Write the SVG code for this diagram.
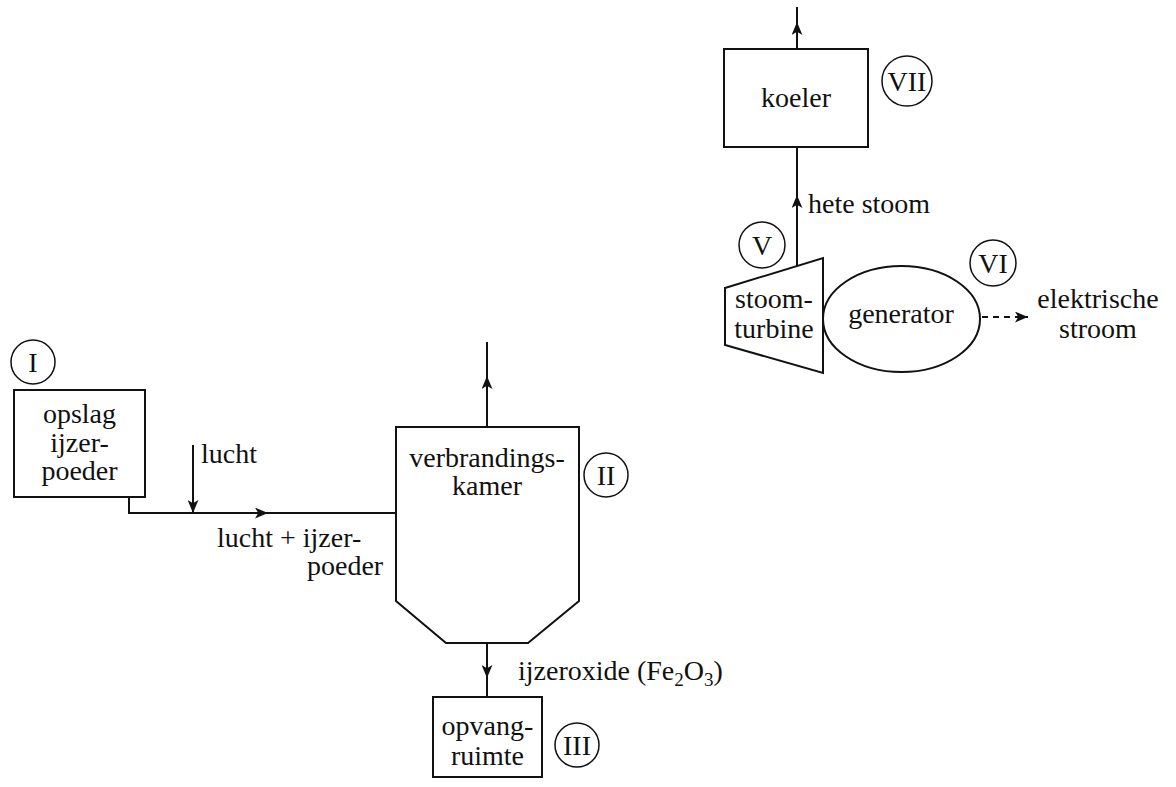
<svg xmlns="http://www.w3.org/2000/svg" width="1176" height="787" viewBox="0 0 1176 787">
<style>
text{font-family:"Liberation Serif","Times New Roman",serif;font-size:28px;fill:#111}
.c{text-anchor:middle}
.sh{fill:#fff;stroke:#111;stroke-width:2}
.num{fill:#fff;stroke:#111;stroke-width:1.5}
.ln{fill:none;stroke:#111;stroke-width:2}
.dash{fill:none;stroke:#111;stroke-width:2;stroke-dasharray:6 5}
</style>
<defs>
<marker id="ah" viewBox="0 0 12 10" refX="12" refY="5" markerWidth="13" markerHeight="11" markerUnits="userSpaceOnUse" orient="auto">
<path d="M0,0 L12,5 L0,10 L3,5 z" fill="#111"/>
</marker>
</defs>
<g id="connectors">
<path class="ln" d="M129,497 V513 H268" marker-end="url(#ah)"/>
<path class="ln" d="M262,513 H396"/>
<path class="ln" d="M193,445 V513" marker-end="url(#ah)"/>
<path class="ln" d="M487,427 V376" marker-end="url(#ah)"/>
<path class="ln" d="M487,382 V342"/>
<path class="ln" d="M487,643 V678" marker-end="url(#ah)"/>
<path class="ln" d="M487,672 V697"/>
<path class="ln" d="M797,49 V22" marker-end="url(#ah)"/>
<path class="ln" d="M797,28 V7"/>
<path class="ln" d="M797,267 V195" marker-end="url(#ah)"/>
<path class="ln" d="M797,200 V147"/>
<path class="dash" d="M982,317 H1028" marker-end="url(#ah)"/>
</g>
<g id="node-I">
<rect class="sh" x="14" y="390" width="131" height="107"/>
<text class="c" x="79.5" y="423">opslag</text>
<text class="c" x="79.5" y="452">ijzer-</text>
<text class="c" x="79.5" y="480">poeder</text>
<circle class="num" cx="33" cy="362" r="22"/>
<text class="c" x="33" y="372">I</text>
</g>
<g id="label-lucht">
<text x="201" y="463">lucht</text>
<text x="217" y="547">lucht + ijzer-</text>
<text x="307" y="575">poeder</text>
</g>
<g id="node-II">
<path class="sh" d="M396,427 H579 V601 L528,643 H446 L396,601 Z"/>
<text class="c" x="487" y="467">verbrandings-</text>
<text class="c" x="487" y="495">kamer</text>
<circle class="num" cx="606" cy="475" r="22"/>
<text class="c" x="606" y="485">II</text>
</g>
<g id="label-oxide">
<text x="518" y="680">ijzeroxide (Fe<tspan font-size="19" dy="6">2</tspan><tspan dy="-6">O</tspan><tspan font-size="19" dy="6">3</tspan><tspan dy="-6">)</tspan></text>
</g>
<g id="node-III">
<rect class="sh" x="433" y="697" width="109" height="80"/>
<text class="c" x="487.5" y="735">opvang-</text>
<text class="c" x="487.5" y="765">ruimte</text>
<circle class="num" cx="577" cy="745" r="22"/>
<text class="c" x="577" y="755">III</text>
</g>
<g id="node-VII">
<rect class="sh" x="724" y="49" width="144" height="98"/>
<text class="c" x="796" y="107">koeler</text>
<circle class="num" cx="907" cy="81" r="25"/>
<text class="c" x="907" y="91">VII</text>
</g>
<g id="label-stoom">
<text x="808" y="213">hete stoom</text>
</g>
<g id="node-V">
<path class="sh" d="M725,288 L823,258 V373 L725,345 Z"/>
<text class="c" x="774" y="308">stoom-</text>
<text class="c" x="774" y="338">turbine</text>
<circle class="num" cx="762" cy="245" r="23"/>
<text class="c" x="762" y="255">V</text>
</g>
<g id="node-VI">
<ellipse class="sh" cx="901.5" cy="319" rx="78.5" ry="53"/>
<text class="c" x="901" y="323">generator</text>
<circle class="num" cx="993" cy="263" r="23"/>
<text class="c" x="993" y="273">VI</text>
</g>
<g id="label-elek">
<text class="c" x="1098" y="308">elektrische</text>
<text class="c" x="1098" y="338">stroom</text>
</g>
</svg>
